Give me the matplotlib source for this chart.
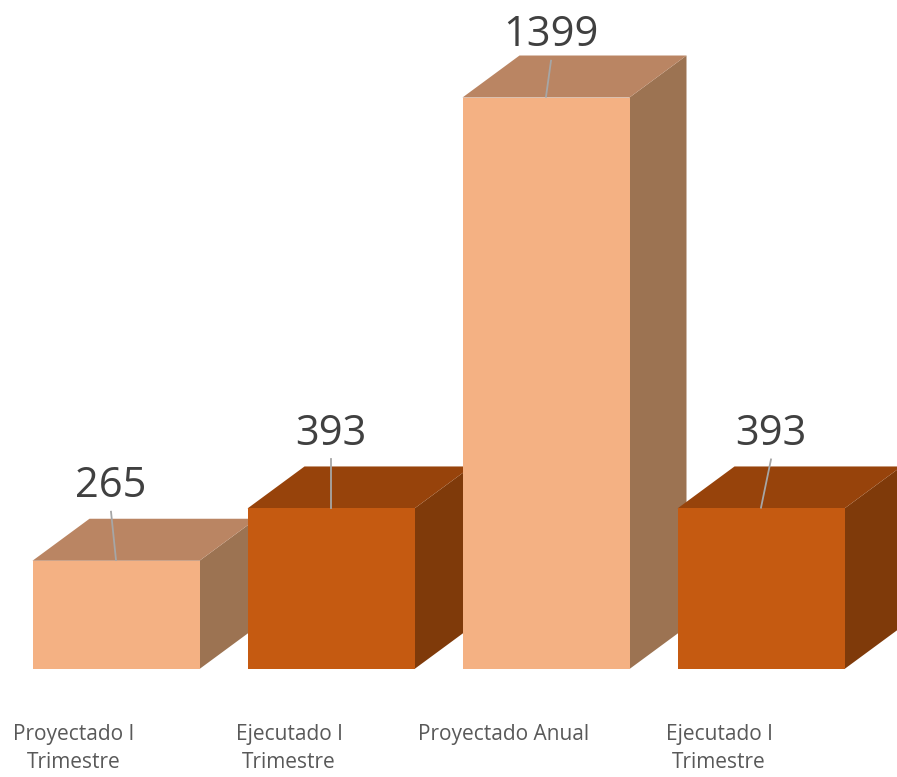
import matplotlib
matplotlib.use("Agg")
import matplotlib.pyplot as plt
from matplotlib.patches import Polygon

# --- Data ---
categories = ["Proyectado I\nTrimestre", "Ejecutado I\nTrimestre", "Proyectado Anual", "Ejecutado I\nTrimestre"]
values = [265, 393, 1399, 393]

# --- Style ---
LIGHT = ("#F4B183", "#BA8563", "#9C7352")   # front, top, side
DARK = ("#C55A11", "#97430B", "#7F3A0A")
bar_styles = [LIGHT, DARK, LIGHT, DARK]

PX_X = 215.0      # pixels per category step
PX_Y = 0.4085     # pixels per value unit
WIDTH = 167 / PX_X
DEPTH_X = 57 / PX_X
DEPTH_Y = 42 / PX_Y
LABEL_MAX = (669 - 46) / PX_Y   # labels can't go above the top of the plot

plt.rcParams['font.family'] = ['Open Sans', 'DejaVu Sans']

fig = plt.figure(figsize=(8.97, 7.77), dpi=100)
ax = fig.add_axes([0, 0, 1, 1])
ax.set_xlim(-116 / PX_X, (897 - 116) / PX_X)
ax.set_ylim(-(777 - 669) / PX_Y, 669 / PX_Y)
ax.axis("off")

for i, (v, (front, top, side)) in enumerate(zip(values, bar_styles)):
    z = 2 + i * 3
    x0, x1 = i - WIDTH / 2, i + WIDTH / 2
    ax.bar(i, v, width=WIDTH, color=front, zorder=z + 2, linewidth=0)
    ax.add_patch(Polygon([(x0, v), (x1, v), (x1 + DEPTH_X, v + DEPTH_Y), (x0 + DEPTH_X, v + DEPTH_Y)],
                         closed=True, facecolor=top, edgecolor="none", zorder=z + 1))
    ax.add_patch(Polygon([(x1, 0), (x1 + DEPTH_X, DEPTH_Y), (x1 + DEPTH_X, v + DEPTH_Y), (x1, v)],
                         closed=True, facecolor=side, edgecolor="none", zorder=z))

    # leader line + value label
    lean = (-5 + 5 * i) / PX_X
    label_y = min(v + 156, LABEL_MAX)
    ax.plot([i, i + lean], [v + 2, label_y - 36], color="#A6A6A6", lw=1.3, zorder=30)
    ax.text(i + lean, label_y, str(v), ha="center", va="baseline", fontsize=30,
            color="#404040", zorder=31)

    # category label
    ax.text(i - 42 / PX_X, -(724 - 669) / PX_Y, categories[i], ha="center", va="top",
            fontsize=15, color="#595959", linespacing=1.45)

fig.savefig("out.png", dpi=100)
